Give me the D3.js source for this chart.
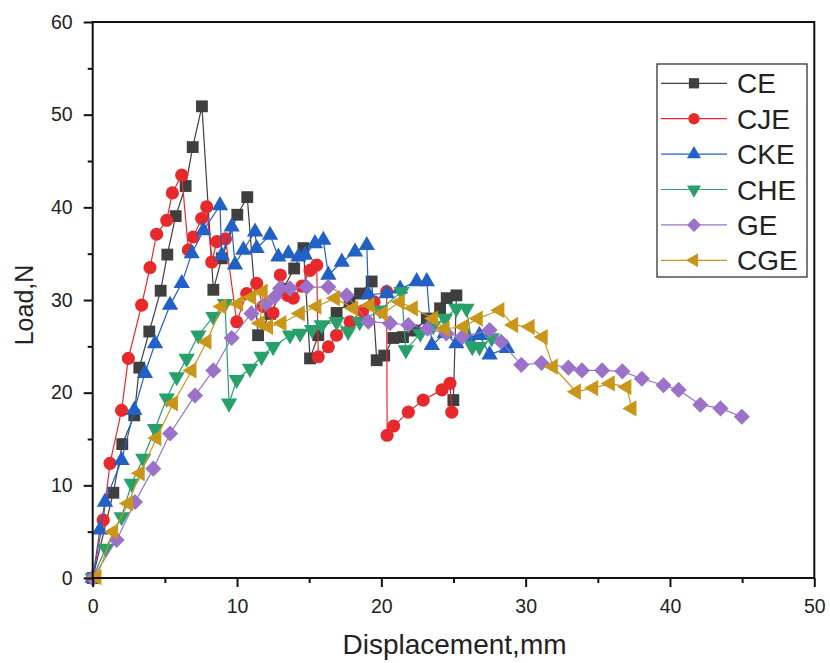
<!DOCTYPE html>
<html><head><meta charset="utf-8">
<script src="https://cdn.jsdelivr.net/npm/d3@7"></script>
<style>body{margin:0;background:#fff}svg{display:block;font-family:"Liberation Sans",Arial,sans-serif}</style>
</head><body><svg id="c" width="830" height="663"></svg>
<script>
const seriesNames = ["CE","CJE","CKE","CHE","GE","CGE"];
const xTicks = [0,10,20,30,40,50];
const yTicks = [0,10,20,30,40,50,60];
const xMinor = [5,15,25,35,45];
const yMinor = [5,15,25,35,45,55];

const CE = [[0,0],[1.43,9.2],[2.05,14.45],[2.88,17.55],[3.23,22.7],[3.92,26.6],[4.71,31.0],[5.17,34.9],[5.75,39.05],[6.44,42.3],[6.93,46.5],[7.57,50.9],[8.36,31.1],[8.94,34.5],[10.02,39.2],[10.71,41.1],[11.46,26.2],[12.3,28.5],[13.2,31.2],[13.96,33.4],[14.6,35.6],[15.06,23.7],[15.63,26.2],[16.9,28.6],[17.8,29.8],[18.52,30.7],[19.33,32.0],[19.68,23.5],[20.2,24.0],[20.83,25.9],[21.5,26.0],[22.3,26.7],[23.15,28.0],[24.07,29.1],[24.53,30.2],[25.2,30.5],[24.99,19.2]];
const CJE = [[0,0],[0.73,6.26],[1.2,12.37],[2.0,18.1],[2.47,23.7],[3.39,29.45],[3.97,33.5],[4.43,37.1],[5.13,38.6],[5.52,41.56],[6.17,43.47],[6.63,35.4],[6.97,36.8],[7.55,38.8],[7.9,40.05],[8.25,34.1],[8.6,36.3],[9.2,36.6],[9.98,27.65],[10.67,30.7],[11.36,31.8],[11.8,29.3],[12.5,28.6],[13.0,32.7],[13.5,30.5],[13.9,30.2],[14.5,31.5],[15.06,33.2],[15.52,33.76],[15.63,23.87],[16.33,24.95],[16.9,26.2],[17.83,27.65],[18.7,28.8],[19.5,29.8],[20.37,30.9],[20.4,15.4],[20.85,16.4],[21.87,17.9],[22.9,19.2],[24.2,20.3],[24.76,21.0],[24.88,17.9]];
const CKE = [[0,0],[0.5,5.2],[0.85,8.2],[2.0,12.7],[2.88,18.1],[3.62,22.1],[4.32,25.3],[5.36,29.45],[6.17,31.8],[6.86,35.0],[7.67,37.5],[8.82,40.2],[8.94,34.8],[9.63,37.9],[9.86,33.8],[10.44,35.4],[11.25,37.36],[11.36,35.57],[12.29,37.0],[12.86,34.66],[13.56,35.0],[14.25,34.66],[14.71,34.84],[15.4,36.1],[15.98,36.46],[16.33,32.7],[17.26,34.1],[18.18,35.2],[18.99,35.9],[19.1,30.6],[20.37,30.7],[21.3,31.2],[22.45,32.0],[23.15,32.0],[23.5,25.1],[24.4,26.4],[25.2,25.3],[26.0,26.0],[26.8,26.2],[27.5,24.1],[28.7,24.8]];
const CHE = [[0,0],[0.9,3.2],[2.0,6.6],[2.7,10.2],[3.5,12.9],[4.32,16.1],[5.13,19.4],[5.82,21.7],[6.51,23.7],[7.32,26.2],[8.36,28.2],[9.17,29.6],[9.45,18.85],[9.98,21.4],[10.9,22.6],[11.7,23.9],[12.5,24.95],[13.67,26.2],[14.37,26.4],[15.2,26.8],[15.87,27.3],[16.9,27.65],[17.7,26.6],[18.5,27.65],[19.9,28.9],[21.4,30.9],[21.7,24.6],[22.7,26.4],[23.6,27.2],[24.4,28.0],[25.2,29.1],[25.9,29.1],[26.3,24.95],[26.8,24.95],[27.65,25.9]];
const GE = [[0,0],[1.66,4.1],[2.93,8.2],[4.2,11.8],[5.36,15.6],[7.09,19.7],[8.36,22.4],[9.63,25.9],[11.0,28.55],[12.0,29.6],[12.63,30.35],[12.98,31.25],[13.67,31.25],[14.83,31.4],[16.33,31.4],[17.6,30.5],[19.1,27.65],[20.6,27.5],[21.87,27.3],[23.2,26.9],[24.5,26.4],[25.6,26.0],[27.5,26.75],[28.3,25.5],[29.7,23.0],[31.1,23.2],[32.96,22.7],[33.9,22.4],[35.3,22.4],[36.7,22.3],[38.05,21.5],[39.55,20.8],[40.6,20.3],[42.1,18.7],[43.5,18.3],[44.98,17.4]];
const CGE = [[0.28,0.1],[1.43,5.0],[2.47,8.05],[3.28,11.3],[4.43,15.1],[5.58,18.85],[6.86,22.4],[7.9,25.5],[8.94,29.3],[10.1,29.6],[11.0,30.3],[11.8,30.9],[11.6,27.5],[12.17,27.1],[13.1,27.5],[14.37,28.55],[15.52,29.3],[16.8,30.2],[18.06,29.1],[19.2,29.45],[20.1,28.55],[21.3,29.8],[22.2,29.1],[23.6,28.0],[24.4,26.9],[25.7,27.1],[26.7,28.0],[28.2,28.9],[29.15,27.3],[30.3,27.1],[31.2,26.0],[31.9,22.8],[33.5,20.1],[34.7,20.5],[35.85,21.0],[37.0,20.6],[37.35,18.3]];

const seriesData = [CE,CJE,CKE,CHE,GE,CGE];
const colors = ["#3f3f3f","#e8292b","#2160c4","#27a06c","#9b72c9","#c9961a"];
const shapes = [d3.symbolSquare,d3.symbolCircle,d3.symbolTriangle,d3.symbolTriangle,d3.symbolSquare,d3.symbolTriangle];
const rotations = [0,0,0,180,45,-90];
const sizes = [140,135,115,115,130,115];

const svg = d3.select("#c");
const x = d3.scaleLinear().domain([0,50]).range([92.7,814.3]);
const y = d3.scaleLinear().domain([0,60]).range([578,22]);

// series
const line = d3.line().x(d=>x(d[0])).y(d=>y(d[1]));
seriesData.forEach((data,i)=>{
  const g = svg.append("g");
  g.append("path").attr("d",line(data)).attr("fill","none").attr("stroke",colors[i]).attr("stroke-width",1.2);
  g.selectAll("path.m").data(data).enter().append("path").attr("class","m")
    .attr("d",d3.symbol().type(shapes[i]).size(sizes[i]))
    .attr("transform",d=>`translate(${x(d[0])},${y(d[1])}) rotate(${rotations[i]})`)
    .attr("fill",colors[i]);
});

// axes
const fs = "19.5px";
const xa = svg.append("g").attr("transform","translate(0,578)")
  .call(d3.axisBottom(x).tickValues(xTicks).tickSize(9).tickPadding(12).tickFormat(d3.format("d")));
const xm = svg.append("g").attr("transform","translate(0,578)")
  .call(d3.axisBottom(x).tickValues(xMinor).tickSize(5).tickFormat(""));
const ya = svg.append("g").attr("transform","translate(92.7,0)")
  .call(d3.axisLeft(y).tickValues(yTicks).tickSize(9).tickPadding(11).tickFormat(d3.format("d")));
const ym = svg.append("g").attr("transform","translate(92.7,0)")
  .call(d3.axisLeft(y).tickValues(yMinor).tickSize(5).tickFormat(""));
[xa,xm,ya,ym].forEach(a=>{
  a.select(".domain").remove();
  a.selectAll("line").attr("stroke","#111").attr("stroke-width",2);
  a.selectAll("text").attr("font-size",fs).attr("fill","#222").attr("font-family","Liberation Sans, Arial, sans-serif");
});
svg.append("rect").attr("x",x(0)).attr("y",y(60)).attr("width",x(50)-x(0)).attr("height",y(0)-y(60))
  .attr("fill","none").attr("stroke","#111").attr("stroke-width",2);

// titles
svg.append("text").attr("x",(x(0)+x(50))/2+1).attr("y",654).attr("text-anchor","middle")
  .attr("font-size","28px").attr("fill","#222").text("Displacement,mm");
svg.append("text").attr("transform","translate(33,305) rotate(-90)").attr("text-anchor","middle")
  .attr("font-size","25px").attr("fill","#222").text("Load,N");

// legend
const lg = svg.append("g");
lg.append("rect").attr("x",657).attr("y",64).attr("width",150).attr("height",213)
  .attr("fill","#fff").attr("stroke","#222").attr("stroke-width",1.2);
seriesNames.forEach((n,i)=>{
  const cy = 83.3 + i*35.4;
  lg.append("line").attr("x1",661).attr("x2",727).attr("y1",cy).attr("y2",cy).attr("stroke",colors[i]).attr("stroke-width",1.2);
  lg.append("path").attr("d",d3.symbol().type(shapes[i]).size(sizes[i]*0.75))
    .attr("transform",`translate(694,${cy}) rotate(${rotations[i]})`).attr("fill",colors[i]);
  lg.append("text").attr("x",737).attr("y",cy).attr("dy","0.36em").attr("font-size","28px").attr("fill","#222").text(n);
});
</script></body></html>
